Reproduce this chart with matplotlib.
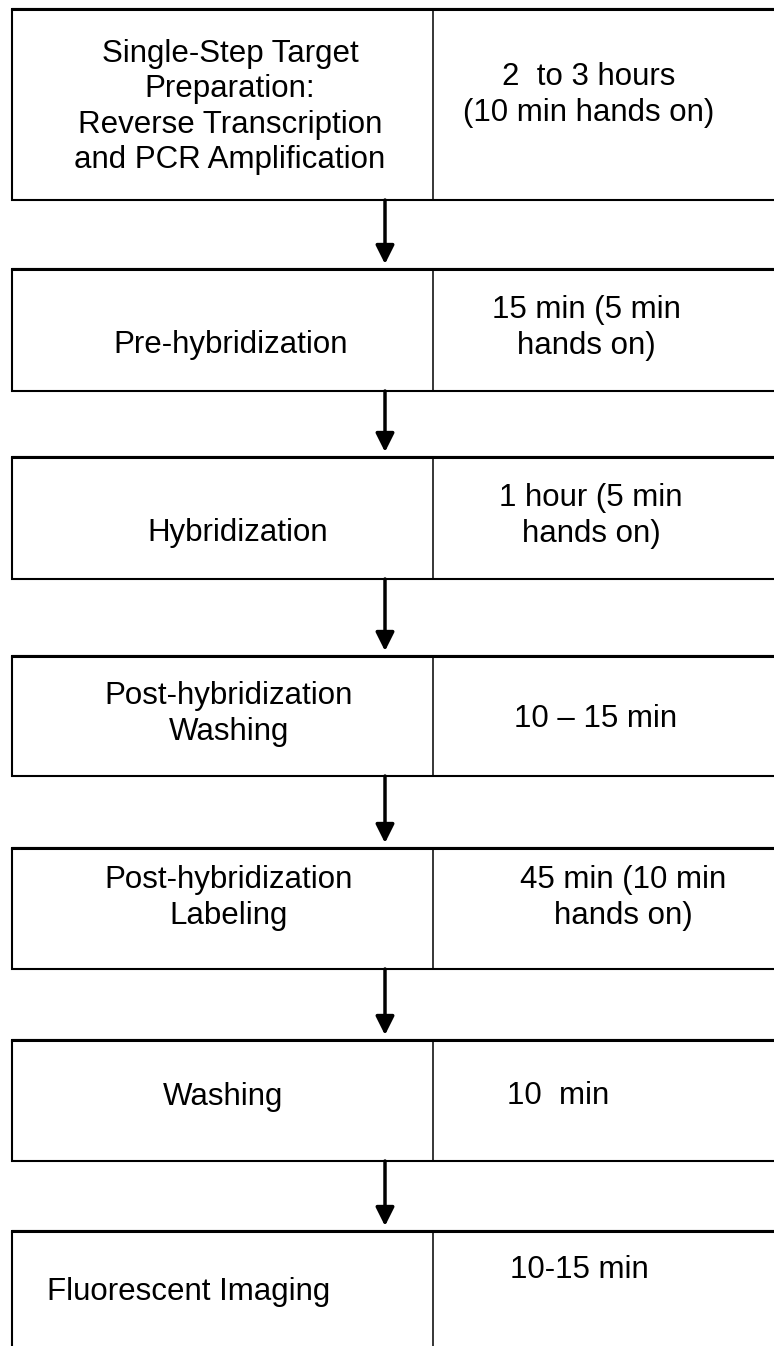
import matplotlib
matplotlib.use("Agg")
import matplotlib.pyplot as plt
from matplotlib.patches import Rectangle

plt.rcParams['font.family'] = ['Liberation Sans', 'DejaVu Sans']

# Workflow steps and their durations
steps = [
    "Single-Step Target\nPreparation:\nReverse Transcription\nand PCR Amplification",
    "Pre-hybridization",
    "Hybridization",
    "Post-hybridization\nWashing",
    "Post-hybridization\nLabeling",
    "Washing",
    "Fluorescent Imaging",
]
durations = [
    "2  to 3 hours\n(10 min hands on)",
    "15 min (5 min\nhands on)",
    "1 hour (5 min\nhands on)",
    "10 \u2013 15 min",
    "45 min (10 min\nhands on)",
    "10  min",
    "10-15 min",
]

# layout (pixels, y downwards)
box_top = [9, 269, 457, 656, 848, 1040, 1231]
box_bot = [200, 391, 579, 776, 969, 1161, 1400]
step_xy = [(230, 107), (231, 345), (238, 533), (229, 714), (229, 898), (223, 1097), (189, 1292)]
dur_xy = [(589, 95), (586, 328), (591, 516), (596, 719), (623, 898), (558, 1096), (579, 1270)]
x_left, x_div, x_right, x_arrow = 12, 433, 800, 385

W, H = 774, 1346
fig = plt.figure(figsize=(W / 100, H / 100), dpi=100)
ax = fig.add_axes([0, 0, 1, 1])
ax.set_xlim(0, W)
ax.set_ylim(H, 0)
ax.axis('off')

for i in range(len(steps)):
    t, b = box_top[i], box_bot[i]
    ax.add_patch(Rectangle((x_left, t), x_right - x_left, b - t,
                           fill=False, edgecolor='black', lw=1.5))
    ax.plot([x_left, x_right], [t, t], color='black', lw=2.2)
    ax.plot([x_div, x_div], [t, b], color='black', lw=1.1)
    ax.text(step_xy[i][0], step_xy[i][1], steps[i], ha='center', va='center',
            multialignment='center', fontsize=22.5, linespacing=1.24)
    ax.text(dur_xy[i][0], dur_xy[i][1], durations[i], ha='center', va='center',
            multialignment='center', fontsize=22.5, linespacing=1.24)
    if i < len(steps) - 1:
        ax.annotate('', xy=(x_arrow, box_top[i + 1] - 5), xytext=(x_arrow, b),
                    arrowprops=dict(arrowstyle='-|>', color='black', lw=2.5,
                                    mutation_scale=28, shrinkA=0, shrinkB=0))

fig.savefig('out.png', dpi=100)
